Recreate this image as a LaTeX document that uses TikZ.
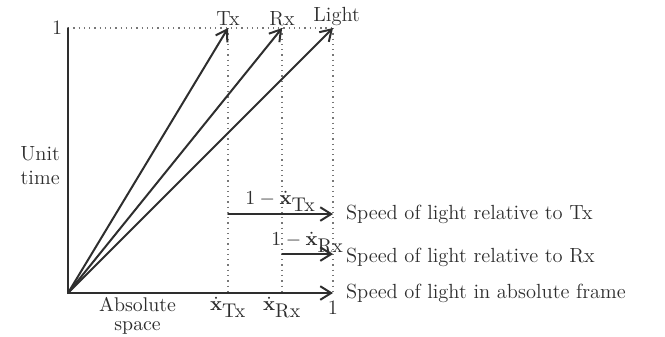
\documentclass[tikz,border=0pt,11pt]{standalone}
\usetikzlibrary{arrows.meta, positioning}
\definecolor{ink}{HTML}{2E2E2E}
\definecolor{inkl}{HTML}{777777}
\newcommand{\sub}[1]{\mbox{\normalsize\rmfamily #1}}
\tikzset{ax/.style={ink, line width=1.1pt, line cap=round},
  vec/.style={ax, -{Straight Barb[length=6pt,width=7.5pt,line width=1.1pt]}},
  guide/.style={inkl, line width=0.7pt, dash pattern=on 0.7pt off 2.2pt},
  lbl/.style={inner sep=1pt, text=ink}}
\begin{document}
\begin{tikzpicture}[x=5.14cm, y=5.14cm, font=\fontsize{11.3}{13.4}\selectfont]
  \useasboundingbox (-0.2566,-0.1623) rectangle (2.2528,1.1057);
  \def\tx{0.604}
  \def\rx{0.808}
  \coordinate (O) at (0,0);
  \coordinate (top) at (0,1);
  \coordinate (Ttop) at (\tx,1);
  \coordinate (Rtop) at (\rx,1);
  \coordinate (Ltop) at (1,1);
  \coordinate (Tbot) at (\tx,0);
  \coordinate (Rbot) at (\rx,0);
  \coordinate (Lbot) at (1,0);
  \coordinate (Ta) at (\tx,0.298);
  \coordinate (Tb) at (1,0.298);
  \coordinate (Ra) at (\rx,0.147);
  \coordinate (Rb) at (1,0.147);
  % guides
  \draw[guide] (top) -- (Ltop);
  \foreach \c in {T,R,L}{\draw[guide] (\c top) -- (\c bot);}
  % axes
  \draw[ax] (O) -- (top);
  \draw[vec] (O) -- (Lbot);
  % world lines
  \draw[vec] (O) -- (Ttop);
  \draw[vec] (O) -- (Rtop);
  \draw[vec] (O) -- (Ltop);
  % relative speeds
  \draw[vec] (Ta) -- (Tb) node[pos=0.5, above=0pt, lbl] {$1-\dot{\mathbf{x}}_{\sub{Tx}}$};
  \draw[vec] (Ra) -- (Rb) node[pos=0.5, above=-1pt, lbl] {$1-\dot{\mathbf{x}}_{\sub{Rx}}$};
  % labels
  \node[lbl, above=0pt of Ttop] (tTx) {Tx};
  \node[lbl, above=0pt of Rtop] (tRx) {Rx};
  \node[lbl, above right=0pt and -12pt of Ltop] (tL) {Light};
  \node[lbl, left=2pt of top] (one) {1};
  \node[lbl, align=center] (ut) at (-0.105,0.48) {Unit\\time};
  \node[lbl, align=center, below=2pt of O, xshift=1.35cm, inner sep=0pt, font=\linespread{0.8}\selectfont] (as) {Absolute\\space};
  \node[lbl, below=1pt of Tbot] (xT) {$\dot{\mathbf{x}}_{\sub{Tx}}$};
  \node[lbl, below=1pt of Rbot] (xR) {$\dot{\mathbf{x}}_{\sub{Rx}}$};
  \node[lbl, below=3pt of Lbot] (xL) {1};
  \node[lbl, right=6pt of Tb] (sT) {Speed of light relative to Tx};
  \node[lbl, right=6pt of Rb, yshift=-2pt] (sR) {Speed of light relative to Rx};
  \node[lbl, right=6pt of Lbot] (sL) {Speed of light in absolute frame};
\end{tikzpicture}
\end{document}
